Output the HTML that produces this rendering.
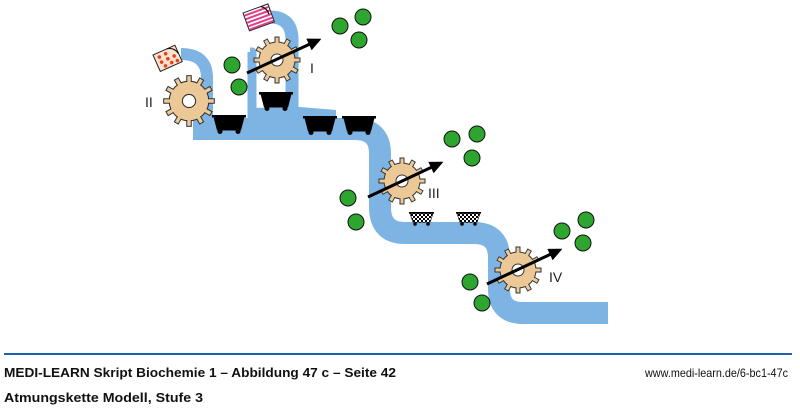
<!DOCTYPE html>
<html><head><meta charset="utf-8"><style>
html,body{margin:0;padding:0;background:#fff;}
svg{display:block;}
</style></head><body>
<svg width="800" height="408" viewBox="0 0 800 408" xmlns="http://www.w3.org/2000/svg">
<defs>
  <pattern id="chk" width="4" height="4" patternUnits="userSpaceOnUse">
    <rect width="4" height="4" fill="#fff"/>
    <rect width="2" height="2" fill="#000"/>
    <rect x="2" y="2" width="2" height="2" fill="#000"/>
  </pattern>
  <g id="tooth"><rect x="-2" y="-23" width="4" height="7" fill="#ecc897" stroke="#333" stroke-width="1"/></g>
  <g id="toothc"><rect x="-1.5" y="-22.5" width="3" height="7" fill="#ecc897"/></g>
  <g id="gear">
    <use href="#tooth" transform="rotate(0)"/><use href="#tooth" transform="rotate(30)"/><use href="#tooth" transform="rotate(60)"/><use href="#tooth" transform="rotate(90)"/><use href="#tooth" transform="rotate(120)"/><use href="#tooth" transform="rotate(150)"/><use href="#tooth" transform="rotate(180)"/><use href="#tooth" transform="rotate(210)"/><use href="#tooth" transform="rotate(240)"/><use href="#tooth" transform="rotate(270)"/><use href="#tooth" transform="rotate(300)"/><use href="#tooth" transform="rotate(330)"/>
    <circle r="18" fill="#ecc897" stroke="#333" stroke-width="1"/>
    <use href="#toothc" transform="rotate(0)"/><use href="#toothc" transform="rotate(30)"/><use href="#toothc" transform="rotate(60)"/><use href="#toothc" transform="rotate(90)"/><use href="#toothc" transform="rotate(120)"/><use href="#toothc" transform="rotate(150)"/><use href="#toothc" transform="rotate(180)"/><use href="#toothc" transform="rotate(210)"/><use href="#toothc" transform="rotate(240)"/><use href="#toothc" transform="rotate(270)"/><use href="#toothc" transform="rotate(300)"/><use href="#toothc" transform="rotate(330)"/>
    <circle r="6" fill="#fff" stroke="#333" stroke-width="1"/>
  </g>
  <g id="cart">
    <rect x="0" y="0" width="34" height="2.5" fill="#000"/>
    <polygon points="1.5,2 32.5,2 29,15.5 5,15.5" fill="#000"/>
    <circle cx="8" cy="16.5" r="2.5" fill="#000"/>
    <circle cx="26" cy="16.5" r="2.5" fill="#000"/>
  </g>
  <g id="ccart">
    <rect x="0" y="0" width="25" height="1.6" fill="#000"/>
    <polygon points="1,1.5 24,1.5 21,10.5 4,10.5" fill="url(#chk)" stroke="#000" stroke-width="0.6"/>
    <circle cx="6" cy="12" r="1.8" fill="#000"/>
    <circle cx="19" cy="12" r="1.8" fill="#000"/>
  </g>
</defs>

<!-- river -->
<g fill="none" stroke="#7db4e4" stroke-linejoin="round">
  <path d="M 193 129 L 355 129 Q 380 129 380 154 L 380 207 Q 380 233 405 233 L 474 233 Q 499 233 499 258 L 499 289 Q 499 313 523 313 L 608 313" stroke-width="22"/>
  <path d="M 181 54 Q 207 54 207 78 L 207 125" stroke-width="12"/>
  <path d="M 268 17 Q 292 16 292 40 L 292 122" stroke-width="13"/>
  <path d="M 250 52 L 252 52 L 252 122" stroke-width="9"/>
</g>
<path d="M 248 108 L 300 107 L 336 110 L 336 122 L 248 122 Z" fill="#7db4e4"/>

<!-- carts -->
<use href="#cart" transform="translate(212,115)"/>
<use href="#cart" transform="translate(259,92)"/>
<use href="#cart" transform="translate(303,116)"/>
<use href="#cart" transform="translate(342,116)"/>
<use href="#ccart" transform="translate(409,212)"/>
<use href="#ccart" transform="translate(456,212)"/>

<!-- gears -->
<use href="#gear" transform="translate(189,101) scale(1.1)"/>
<use href="#gear" transform="translate(277,60)"/>
<use href="#gear" transform="translate(402,181)"/>
<use href="#gear" transform="translate(518,270)"/>

<!-- arrows -->
<g fill="#000" stroke="#000">
  <line x1="247" y1="73" x2="310" y2="44" stroke-width="3"/>
  <polygon points="321,39 311.7,49.9 306.7,38.9" stroke-width="0.5"/>
  <line x1="368" y1="197" x2="432" y2="167" stroke-width="3"/>
  <polygon points="443,162 433.7,172.9 428.7,162.1" stroke-width="0.5"/>
  <line x1="487" y1="284" x2="551" y2="254" stroke-width="3"/>
  <polygon points="562,249 552.7,259.9 547.7,249.1" stroke-width="0.5"/>
</g>

<!-- green circles -->
<g fill="#2ea52e" stroke="#111" stroke-width="1">
  <circle cx="232" cy="65" r="8"/>
  <circle cx="239" cy="87" r="8"/>
  <circle cx="340" cy="26" r="8"/>
  <circle cx="363" cy="17" r="8"/>
  <circle cx="359" cy="40" r="8"/>
  <circle cx="452" cy="139" r="8"/>
  <circle cx="477" cy="134" r="8"/>
  <circle cx="472" cy="158" r="8"/>
  <circle cx="348" cy="198" r="8"/>
  <circle cx="356" cy="222" r="8"/>
  <circle cx="562" cy="231" r="8"/>
  <circle cx="586" cy="220" r="8"/>
  <circle cx="583" cy="243" r="8"/>
  <circle cx="470" cy="282" r="8"/>
  <circle cx="482" cy="303" r="8"/>
</g>

<!-- dotted box -->
<g transform="translate(153,55) rotate(-24)">
  <rect x="0" y="0" width="24" height="18" fill="#fde2d2" stroke="#222" stroke-width="1"/>
  <g fill="#e8421c">
    <circle cx="5" cy="4.5" r="1.8"/><circle cx="12" cy="4" r="1.8"/>
    <circle cx="5" cy="10" r="1.8"/><circle cx="12" cy="9.5" r="1.8"/><circle cx="19" cy="9.5" r="1.8"/>
    <circle cx="7" cy="15" r="1.8"/><circle cx="14" cy="14.5" r="1.8"/><circle cx="20" cy="15" r="1.8"/>
  </g>
  <path d="M 15 0 Q 22 1 24 9" fill="none" stroke="#111" stroke-width="1.2"/>
</g>

<!-- striped box -->
<g transform="translate(243,13) rotate(-20)">
  <rect x="0" y="0" width="26.5" height="19" fill="#fff" stroke="#222" stroke-width="1"/>
  <g fill="#e23d88">
    <rect x="0.5" y="2" width="25.5" height="2"/>
    <rect x="0.5" y="5.8" width="25.5" height="2"/>
    <rect x="0.5" y="9.6" width="25.5" height="2"/>
    <rect x="0.5" y="13.4" width="25.5" height="2"/>
    <rect x="0.5" y="16.8" width="25.5" height="1.7"/>
  </g>
  <path d="M 19 0 Q 24 3 24 10" fill="none" stroke="#111" stroke-width="1.2"/>
</g>

<!-- labels -->
<g font-family="Liberation Sans, sans-serif" font-size="14" fill="#222">
  <text x="145" y="107">II</text>
  <text x="310" y="73">I</text>
  <text x="428" y="198">III</text>
  <text x="549" y="282">IV</text>
</g>

<!-- footer -->
<rect x="4" y="353" width="788" height="2" fill="#1e5fb0"/>
<text x="4" y="377" font-family="Liberation Sans, sans-serif" font-weight="bold" font-size="13" fill="#111" textLength="392" lengthAdjust="spacingAndGlyphs">MEDI-LEARN Skript Biochemie 1 – Abbildung 47 c – Seite 42</text>
<text x="4" y="402" font-family="Liberation Sans, sans-serif" font-weight="bold" font-size="13" fill="#111" textLength="199" lengthAdjust="spacingAndGlyphs">Atmungskette Modell, Stufe 3</text>
<text x="645" y="377" font-family="Liberation Sans, sans-serif" font-size="12" fill="#111" textLength="143" lengthAdjust="spacingAndGlyphs">www.medi-learn.de/6-bc1-47c</text>
</svg>
</body></html>
